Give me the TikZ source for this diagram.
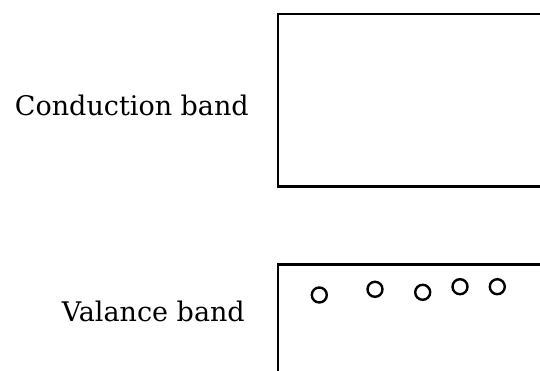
\documentclass[tikz,border=0pt]{standalone}
\usepackage{fontspec}
\setmainfont{DejaVu Serif}
\begin{document}
\begin{tikzpicture}[x=1pt,y=1pt,
  band/.style={draw=black,line width=2.8pt},
  hole/.style={draw=black,line width=2.4pt},
  lbl/.style={inner sep=0pt,anchor=base east,font=\fontsize{27}{32}\selectfont}]
\useasboundingbox (0,0) rectangle (540,370);
\clip (0,0) rectangle (540,370);
\draw[band] (278,356) rectangle (560,183.5);
\draw[band] (278,105.3) rectangle (560,-20);
\node[lbl] (cb) at (249,254) {Conduction band};
\node[lbl] (vb) at (245,49) {Valance band};
\foreach \n/\x/\y in {h1/319.3/295, h2/375/289.3, h3/422.7/292.3, h4/460/286.7, h5/497.3/286.7}
  \node[hole,circle,minimum size=15pt,inner sep=0pt] (\n) at (\x,370-\y) {};
\end{tikzpicture}
\end{document}
